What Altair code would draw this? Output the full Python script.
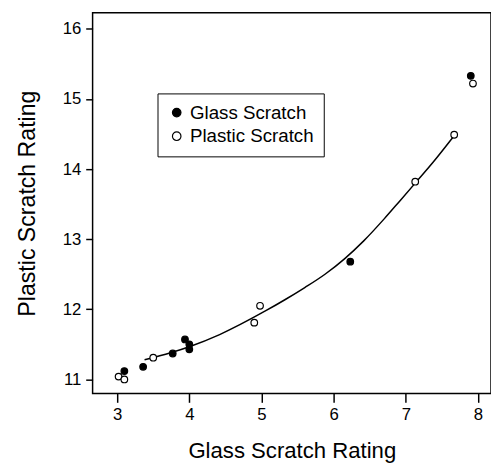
import altair as alt
import pandas as pd

glass_x = [3.10, 3.36, 3.77, 3.94, 4.00, 4.00, 6.23, 7.90]
glass_y = [11.12, 11.18, 11.37, 11.57, 11.50, 11.43, 12.68, 15.33]
plastic_x = [3.02, 3.10, 3.50, 4.90, 4.98, 7.13, 7.67, 7.93]
plastic_y = [11.04, 11.00, 11.31, 11.81, 12.05, 13.82, 14.49, 15.22]
curve_x = [3.38, 3.74, 4.01, 4.42, 5.06, 5.33, 5.60, 5.88, 6.15, 6.42, 6.70, 6.92, 7.13, 7.38, 7.65]
curve_y = [11.28, 11.38, 11.47, 11.64, 11.98, 12.14, 12.31, 12.50, 12.72, 12.98, 13.29, 13.55, 13.80, 14.10, 14.45]
x_ticks = [3, 4, 5, 6, 7, 8]
y_ticks = [11, 12, 13, 14, 15, 16]
series = ["Glass Scratch", "Plastic Scratch"]

pts = pd.DataFrame(
    {"x": glass_x + plastic_x,
     "y": glass_y + plastic_y,
     "s": [series[0]] * len(glass_x) + [series[1]] * len(plastic_x)}
)
curve = pd.DataFrame({"x": curve_x, "y": curve_y})

FONT = "Liberation Sans"
xs = alt.Scale(domain=[2.66, 8.18], nice=False, zero=False)
ys = alt.Scale(domain=[10.80, 16.23], nice=False, zero=False)
xax = alt.Axis(values=x_ticks, format="d", title="Glass Scratch Rating", grid=False, domain=False,
               tickColor="black", tickWidth=1.5, tickSize=9, labelFontSize=17,
               labelColor="black", labelFont=FONT, labelPadding=4,
               titleFont=FONT, titleFontSize=22.5, titleFontWeight="normal",
               titleColor="black", titlePadding=18)
yax = alt.Axis(values=y_ticks, format="d", title="Plastic Scratch Rating", grid=False, domain=False,
               tickColor="black", tickWidth=1.5, tickSize=7, labelFontSize=17,
               labelColor="black", labelFont=FONT, labelPadding=5,
               titleFont=FONT, titleFontSize=23.5, titleFontWeight="normal",
               titleColor="black", titlePadding=23)

line = alt.Chart(curve).mark_line(color="black", strokeWidth=1.5, interpolate="monotone").encode(
    x=alt.X("x:Q", scale=xs, axis=xax),
    y=alt.Y("y:Q", scale=ys, axis=yax),
)

points = alt.Chart(pts).mark_point(shape="circle", size=45, stroke="black", strokeWidth=1.2, opacity=1, filled=False).encode(
    x=alt.X("x:Q", scale=xs),
    y=alt.Y("y:Q", scale=ys),
    fill=alt.Fill("s:N", scale=alt.Scale(domain=series, range=["black", "white"]),
                  legend=alt.Legend(title=None, orient="none", legendX=66, legendY=82,
                                    strokeColor="black", padding=10,
                                    labelFontSize=19, labelFont=FONT, labelColor="black",
                                    symbolSize=75, symbolStrokeColor="black",
                                    symbolStrokeWidth=1.2, rowPadding=4, labelOffset=4,
                                    symbolType="circle")),
)

chart = (line + points).properties(
    width=405, height=387,
    autosize=alt.AutoSizeParams(type="none"),
    padding={"left": 86, "top": 1, "right": 0, "bottom": 75},
).configure_view(stroke="black", strokeWidth=1.5)

chart.save("out.html", embed_options={"renderer": "svg", "actions": False})
